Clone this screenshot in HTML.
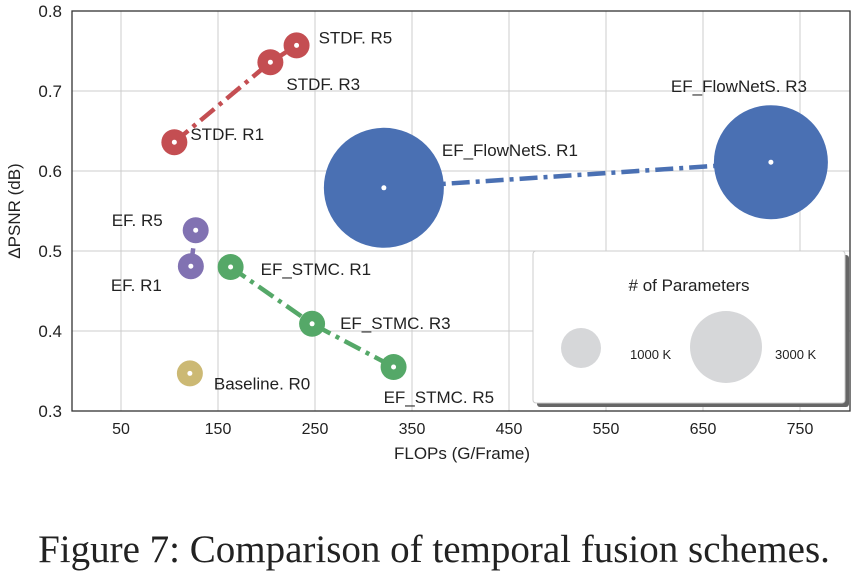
<!DOCTYPE html>
<html><head><meta charset="utf-8"><style>
body{margin:0;background:#fff}
svg text{font-family:"Liberation Sans",sans-serif;fill:#222}
</style></head><body>
<svg width="856" height="573" viewBox="0 0 856 573" xmlns="http://www.w3.org/2000/svg" id="chart">
<g id="grid"></g>
<g id="series"></g>
<g id="labels"></g>
<rect x="72" y="11" width="778" height="400" fill="none" stroke="#333" stroke-width="1.3"/>
<g id="legend">
<rect x="537" y="255" width="312" height="152" rx="3" fill="#666"/>
<rect x="533" y="251" width="312" height="152" rx="3" fill="#fff" stroke="#ccc"/>
<text x="689" y="291" text-anchor="middle" font-size="17"># of Parameters</text>
<circle cx="581" cy="348" r="20" fill="#d6d7d9"/>
<text x="630" y="359" font-size="13">1000 K</text>
<circle cx="726" cy="347" r="36" fill="#d6d7d9"/>
<text x="775" y="359" font-size="13">3000 K</text>
</g>
<text x="462" y="459" text-anchor="middle" font-size="17">FLOPs (G/Frame)</text>
<text transform="translate(20,211) rotate(-90)" text-anchor="middle" font-size="17">ΔPSNR (dB)</text>
<text x="434" y="562" text-anchor="middle" font-size="39" style="font-family:'Liberation Serif',serif">Figure 7: Comparison of temporal fusion schemes.</text>
</svg>
<script>
const xTicks=[50,150,250,350,450,550,650,750];
const yTicks=[0.3,0.4,0.5,0.6,0.7,0.8];
const names=["STDF. R1","STDF. R3","STDF. R5","EF_FlowNetS. R1","EF_FlowNetS. R3","EF. R1","EF. R5","EF_STMC. R1","EF_STMC. R3","EF_STMC. R5","Baseline. R0"];
const flops=[105,204,231,321,720,122,127,163,247,331,121];
const psnr=[0.636,0.736,0.757,0.579,0.611,0.481,0.526,0.480,0.409,0.355,0.347];
const radii=[13,13,13,60,57,13,13,13,13,13,13];
const groups=["STDF","STDF","STDF","FlowNetS","FlowNetS","EF","EF","STMC","STMC","STMC","Base"];
const colors={STDF:"#c44e52",FlowNetS:"#4a70b3",EF:"#8172b2",STMC:"#55a868",Base:"#ccb974"};
const labelOff=[[16,-2],[16,28],[22,-2],[58,-32],[-100,-70],[-80,25],[-84,-4],[30,8],[28,5],[-10,36],[24,16]];
const X=v=>72.5+v*0.97, Y=v=>11+(0.8-v)*800;
const NS="http://www.w3.org/2000/svg";
function mk(t,a,p){const e=document.createElementNS(NS,t);for(const k in a)e.setAttribute(k,a[k]);p.appendChild(e);return e;}
const grid=document.getElementById('grid'),ser=document.getElementById('series'),lab=document.getElementById('labels');
xTicks.forEach(t=>{const l=mk('line',{x1:X(t),x2:X(t),y1:11,y2:411,stroke:'#ccc','stroke-width':1},grid);


const tx=mk('text',{x:X(t),y:434,'text-anchor':'middle','font-size':16},grid);tx.textContent=t;

});
yTicks.forEach(t=>{const l=mk('line',{x1:72,x2:850,y1:Y(t),y2:Y(t),stroke:'#ccc','stroke-width':1},grid);


const tx=mk('text',{x:62,y:Y(t)+6,'text-anchor':'end','font-size':17},grid);tx.textContent=t.toFixed(1);

});
const byG={};groups.forEach((g,i)=>{(byG[g]=byG[g]||[]).push(i);});
Object.keys(byG).forEach(g=>{const idx=byG[g].slice().sort((a,b)=>flops[a]-flops[b]);if(idx.length<2)return;
const pts=idx.map(i=>X(flops[i])+','+Y(psnr[i])).join(' ');
const pl=mk('polyline',{points:pts,fill:'none',stroke:colors[g],'stroke-width':4.5,'stroke-dasharray':'18,6,4,6'},ser);

});
names.forEach((n,i)=>{const c=mk('circle',{cx:X(flops[i]),cy:Y(psnr[i]),r:radii[i],fill:colors[groups[i]]},ser);


const d=mk('circle',{cx:X(flops[i]),cy:Y(psnr[i]),r:2.5,fill:'#fff'},ser);


const t=mk('text',{x:X(flops[i])+labelOff[i][0],y:Y(psnr[i])+labelOff[i][1],'font-size':17},lab);t.textContent=n;

});
</script>
</body></html>
